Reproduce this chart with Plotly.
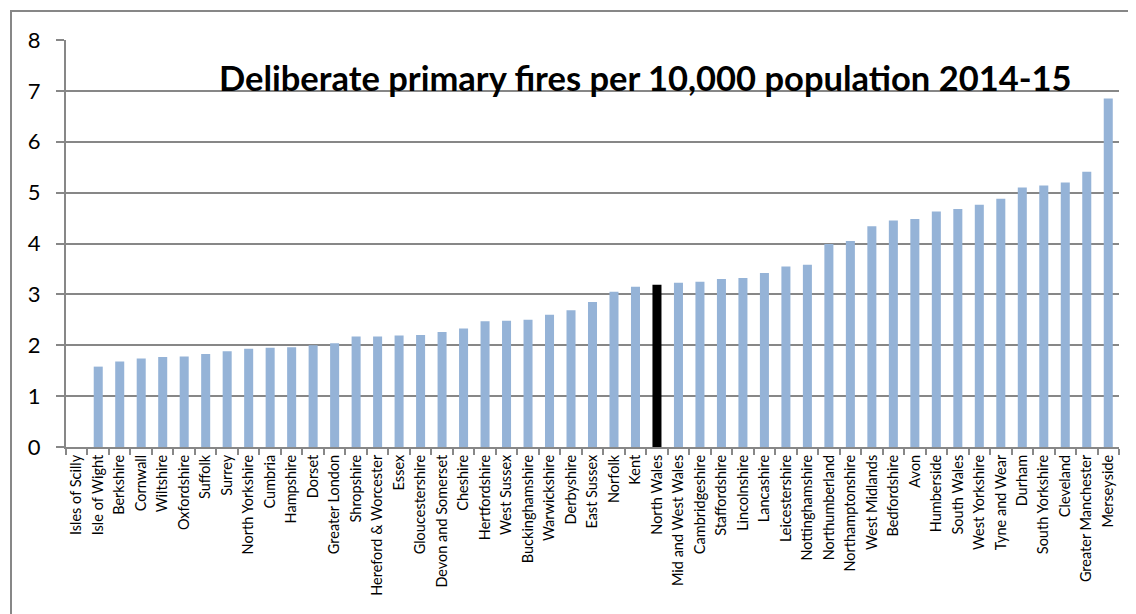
import plotly.graph_objects as go

categories = ["Isles of Scilly", "Isle of Wight", "Berkshire", "Cornwall", "Wiltshire", "Oxfordshire",
              "Suffolk", "Surrey", "North Yorkshire", "Cumbria", "Hampshire", "Dorset", "Greater London",
              "Shropshire", "Hereford & Worcester", "Essex", "Gloucestershire", "Devon and Somerset",
              "Cheshire", "Hertfordshire", "West Sussex", "Buckinghamshire", "Warwickshire", "Derbyshire",
              "East Sussex", "Norfolk", "Kent", "North Wales", "Mid and West Wales", "Cambridgeshire",
              "Staffordshire", "Lincolnshire", "Lancashire", "Leicestershire", "Nottinghamshire",
              "Northumberland", "Northamptonshire", "West Midlands", "Bedfordshire", "Avon", "Humberside",
              "South Wales", "West Yorkshire", "Tyne and Wear", "Durham", "South Yorkshire", "Cleveland",
              "Greater Manchester", "Merseyside"]
values = [0.0, 1.58, 1.68, 1.74, 1.77, 1.78, 1.83, 1.88, 1.93, 1.95, 1.96, 2.00, 2.04,
          2.17, 2.17, 2.19, 2.20, 2.26, 2.33, 2.47, 2.48, 2.50, 2.60, 2.69,
          2.85, 3.05, 3.15, 3.19, 3.23, 3.25, 3.30, 3.32, 3.42, 3.55, 3.58,
          3.99, 4.05, 4.34, 4.45, 4.48, 4.63, 4.68, 4.76, 4.88, 5.10, 5.14, 5.20,
          5.41, 6.85]
highlight = "North Wales"
title_text = "Deliberate primary fires per 10,000 population 2014-15"
y_ticks = [0, 1, 2, 3, 4, 5, 6, 7, 8]

colors = ["#000000" if c == highlight else "#95B3D7" for c in categories]

# page body has an 8px margin: work in absolute page pixels, offset by 8
OFF = 8
W, H = 1128, 606
plot_l, plot_r, plot_t, plot_b = 66, 1119, 40, 447  # absolute page pixels
ml = plot_l - OFF
mt = plot_t - OFF
mr = W - (plot_r - OFF)
mb = H - (plot_b - OFF)
pw, ph = W - ml - mr, H - mt - mb

fig = go.Figure(go.Bar(x=categories, y=values, marker=dict(color=colors, line=dict(width=0)),
                       hoverinfo="x+y"))

def px2paper_x(p):
    return (p - OFF - ml) / pw

def px2paper_y(p):
    return (H - mb - (p - OFF)) / ph

border = dict(color="#878787", width=2)
fig.add_shape(type="line", xref="paper", yref="paper", layer="below",
              x0=px2paper_x(10), x1=px2paper_x(OFF + W), y0=px2paper_y(11), y1=px2paper_y(11), line=border)
fig.add_shape(type="line", xref="paper", yref="paper", layer="below",
              x0=px2paper_x(11), x1=px2paper_x(11), y0=px2paper_y(10), y1=px2paper_y(OFF + H), line=border)

fig.add_annotation(text="<b>" + title_text + "</b>", xref="paper", yref="paper",
                   x=px2paper_x(645), y=px2paper_y(77), xanchor="center", yanchor="middle",
                   showarrow=False, font=dict(family="Lato", size=34.5, color="#000000"))

fig.update_layout(
    width=W, height=H, margin=dict(l=ml, r=mr, t=mt, b=mb),
    paper_bgcolor="white", plot_bgcolor="white", bargap=0.58, showlegend=False,
    font=dict(family="Lato", color="#000000"),
)
fig.update_xaxes(type="category", tickangle=-90, tickfont=dict(size=14.5, family="Lato"),
                 showline=True, linecolor="#878787", linewidth=2, ticks="outside",
                 tickson="boundaries", ticklen=6, tickcolor="#878787", tickwidth=1.5,
                 showgrid=False, automargin=False)
fig.update_yaxes(range=[0, 8], tickvals=y_ticks, tickfont=dict(size=22, family="Lato"),
                 showgrid=True, gridcolor="#878787", gridwidth=2, zeroline=False,
                 showline=True, linecolor="#878787", linewidth=2, ticks="outside",
                 ticklen=8, tickcolor="#878787", tickwidth=2, ticklabelstandoff=11,
                 automargin=False)

fig.write_html("out.html",
               post_script="document.documentElement.style.overflow='hidden';document.body.style.overflow='hidden';")
